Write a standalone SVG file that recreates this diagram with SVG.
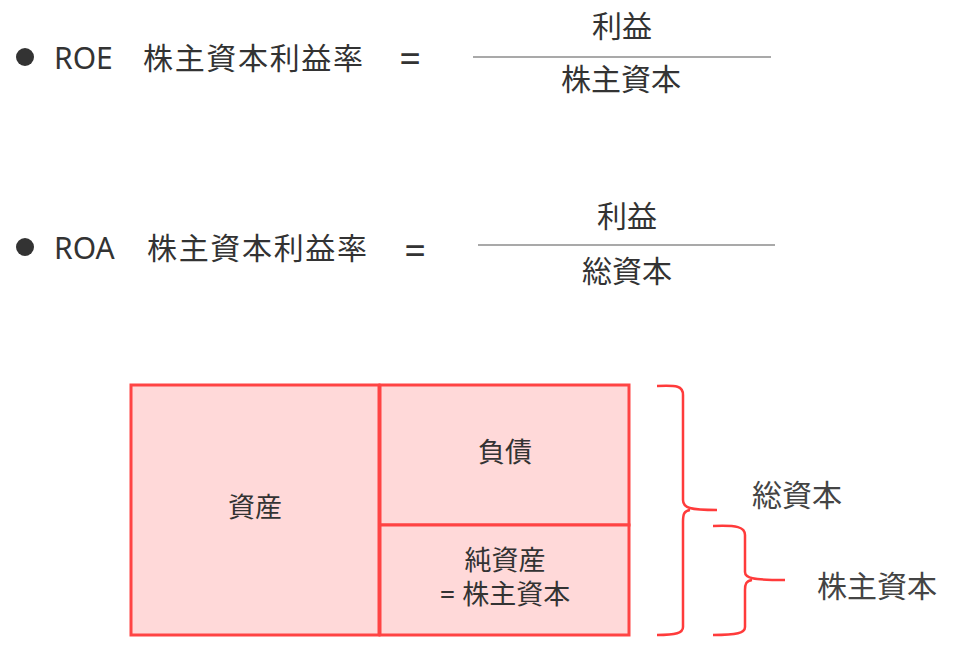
<svg xmlns="http://www.w3.org/2000/svg" width="960" height="662" viewBox="0 0 960 662">
<style>
text{font-family:"Noto Sans","Noto Sans CJK JP",sans-serif;fill:#333;}
.big{font-size:30px;}
.mid{font-size:27px;}
.eq{font-size:38px;text-anchor:middle;}
.c{text-anchor:middle;}
.frac{stroke:#555;stroke-width:1.2;}
.box{fill:#ffd9d9;stroke:#ff4444;stroke-width:3;}
.brace{fill:none;stroke:#ff3b3b;stroke-width:2.5;}
.lbl{fill:#444;}
</style>
<rect width="960" height="662" fill="#fff"/>
<g id="roe">
<circle cx="25" cy="57" r="9" fill="#333"/>
<text class="big" x="54" y="69">ROE</text>
<text class="big" x="143" y="69" textLength="220">株主資本利益率</text>
<text class="eq" x="410" y="72">=</text>
<text class="big c" x="622" y="37">利益</text>
<line class="frac" x1="473" y1="57" x2="771" y2="57"/>
<text class="big c" x="621" y="90">株主資本</text>
</g>
<g id="roa">
<circle cx="25" cy="247" r="9" fill="#333"/>
<text class="big" x="54" y="259">ROA</text>
<text class="big" x="147" y="259" textLength="220">株主資本利益率</text>
<text class="eq" x="415" y="264">=</text>
<text class="big c" x="627" y="227">利益</text>
<line class="frac" x1="478" y1="245" x2="775" y2="245"/>
<text class="big c" x="627" y="282">総資本</text>
</g>
<g id="assets">
<rect class="box" x="131" y="385" width="248" height="250"/>
<text class="mid c" x="255" y="517">資産</text>
</g>
<g id="liabilities">
<rect class="box" x="380" y="385" width="249" height="140"/>
<text class="mid c" x="505" y="462">負債</text>
</g>
<g id="equity">
<rect class="box" x="380" y="525" width="249" height="110"/>
<text class="mid c" x="505" y="570">純資産</text>
<text class="mid c" x="505" y="604">= 株主資本</text>
</g>
<g id="connectors">
<path class="brace" d="M657,386 C677,385 683,386 683,395 L683,500 C683,508 690,510 717,510 M690,510 C684,511 683,514 683,522 L683,627 C683,633 676,635 657,635"/>
<path class="brace" d="M713,526 C737,525 745,527 745,535 L745,572 C745,578 752,580 785,580 M752,580 C746,581 745,584 745,590 L745,627 C745,633 737,635 713,635"/>
</g>
<g id="total-capital">
<text class="big c lbl" x="797" y="506">総資本</text>
</g>
<g id="shareholder-capital">
<text class="big c lbl" x="877" y="597">株主資本</text>
</g>
</svg>
